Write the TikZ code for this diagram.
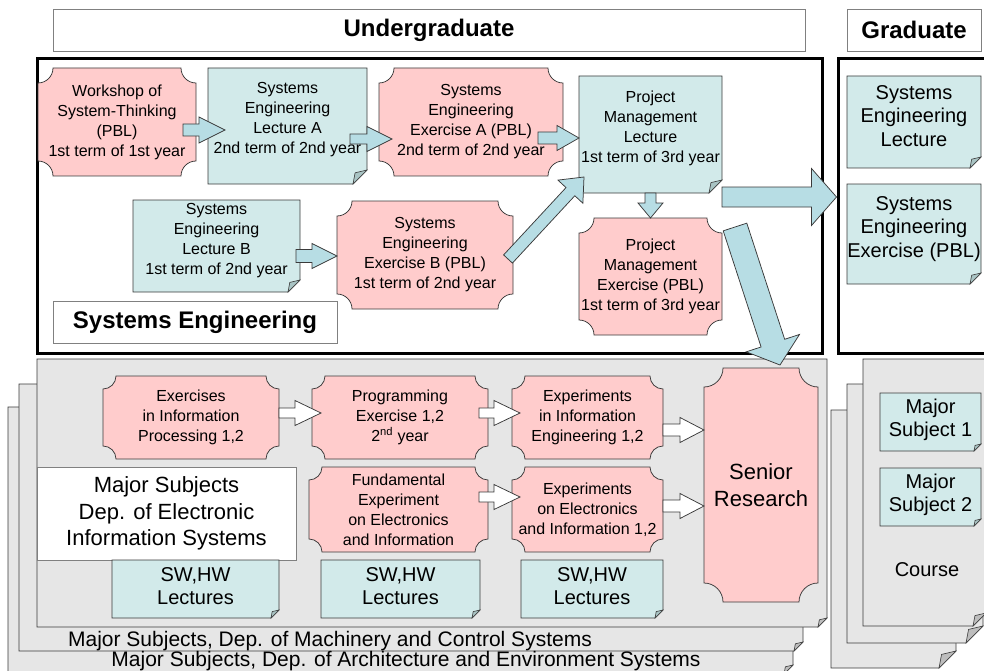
\documentclass[tikz,border=0pt]{standalone}
\usepackage{fontspec}
\setmainfont{Liberation Sans}
\usetikzlibrary{calc}
\definecolor{pinkf}{HTML}{FFCCCC}
\definecolor{tealf}{HTML}{D2EAEA}
\definecolor{foldt}{HTML}{A9C4C4}
\definecolor{arrowt}{HTML}{B7DDE4}
\definecolor{grayf}{HTML}{E6E6E6}
\definecolor{foldgr}{HTML}{BDBDBD}
\definecolor{edge}{HTML}{3A3A3A}
\definecolor{hdredge}{HTML}{808080}
\tikzset{
  shapebox/.style={inner sep=0pt, outer sep=0pt, draw=none},
  txt/.style={inner sep=0pt, align=center, text=black},
  s16/.style={font=\fontsize{16}{20}\selectfont},
  s20/.style={font=\fontsize{20}{23.5}\selectfont},
  s21/.style={font=\fontsize{21}{25}\selectfont},
  s22/.style={font=\fontsize{22}{26.5}\selectfont},
  b24/.style={font=\bfseries\fontsize{24}{28}\selectfont},
  plaq/.style={fill=pinkf, draw=edge, line width=0.75pt},
  notest/.style={fill=tealf, draw=edge, line width=0.75pt},
  pagest/.style={fill=grayf, draw=edge, line width=0.75pt},
  foldteal/.style={fill=foldt, draw=edge, line width=0.6pt},
  foldgray/.style={fill=foldgr, draw=edge, line width=0.6pt},
  hdr/.style={draw=hdredge, fill=white, line width=0.8pt, inner sep=0pt, b24},
  heavybox/.style={draw=black, line width=3pt, inner sep=0pt},
  tealarrow/.style={fill=arrowt, draw=edge, line width=0.75pt},
  whitearrow/.style={fill=white, draw=edge, line width=0.75pt},
}
% invisible box node from corner coordinates
\newcommand\mkbox[5]{%
  \node[shapebox, minimum width={#4-#2}, minimum height={#5-#3}] (#1) at ({(#2+#4)/2},{(#3+#5)/2}) {};}
% folded-corner outline on a named box: name, fold, fill style, fold style
\newcommand\dogear[4]{%
  \draw[#3] (#1.north west) -- (#1.north east) -- ([yshift=#2pt]#1.south east)
     -- ([xshift=-#2pt]#1.south east) -- (#1.south west) -- cycle;
  \draw[#4] ([xshift=-#2pt]#1.south east) -- ([yshift=#2pt]#1.south east)
     -- ([xshift={-0.85*#2pt}, yshift={0.8*#2pt}]#1.south east) -- cycle;}
% concave-corner plaque: name x1 y1 x2 y2 radius textopts text
\newcommand\plaque[8]{%
  \mkbox{#1}{#2}{#3}{#4}{#5}
  \draw[plaq] ([xshift=#6pt]#1.north west) -- ([xshift=-#6pt]#1.north east)
     arc[start angle=180, end angle=270, radius=#6pt] -- ([yshift=#6pt]#1.south east)
     arc[start angle=90, end angle=180, radius=#6pt] -- ([xshift=#6pt]#1.south west)
     arc[start angle=0, end angle=90, radius=#6pt] -- ([yshift=-#6pt]#1.north west)
     arc[start angle=270, end angle=360, radius=#6pt] -- cycle;
  \node[txt, #7] (#1-t) at (#1.center) {#8};}
% note with folded corner: name x1 y1 x2 y2 fold textopts text
\newcommand\note[8]{%
  \mkbox{#1}{#2}{#3}{#4}{#5}
  \dogear{#1}{#6}{notest}{foldteal}
  \node[txt, #7] (#1-t) at (#1.center) {#8};}
% gray page: name x1 y1 x2 y2 fold
\newcommand\page[6]{%
  \mkbox{#1}{#2}{#3}{#4}{#5}
  \dogear{#1}{#6}{pagest}{foldgray}}
% block arrow: style, from, to, shaft half width, head half width, head length
\newcommand\barrow[6]{%
  \coordinate (bA) at #2;
  \coordinate (bB) at #3;
  \coordinate (bH) at ($(bB)!#6!(bA)$);
  \draw[#1] ($(bA)!#4!90:(bB)$) -- ($(bH)!#4!90:(bB)$) -- ($(bH)!#5!90:(bB)$) -- (bB)
     -- ($(bH)!#5!-90:(bB)$) -- ($(bH)!#4!-90:(bB)$) -- ($(bA)!#4!-90:(bB)$) -- cycle;}

\begin{document}
\begin{tikzpicture}[x=1pt,y=-1pt]
\useasboundingbox (0,0) rectangle (984,671);

% headers
\node[hdr, minimum width=752, minimum height=42] (ug) at (429,30) {Undergraduate};
\node[hdr, minimum width=134, minimum height=42] (gr) at (914,30) {Graduate};

% thick region boxes
\node[heavybox, minimum width=785, minimum height=294] (se) at (429.5,206) {};
\node[heavybox, minimum width=157, minimum height=294] (gb) at (916.5,206) {};

% stacked pages (undergraduate)
\page{p3}{8}{407}{793}{674}{9}
\page{p2}{19}{384}{803}{651}{9}
\page{p1}{37}{359}{827}{627}{9}
\node[txt, s21, anchor=base] (mach) at (330,646) {Major Subjects, Dep. of Machinery and Control Systems};
\node[txt, s21, anchor=base] (arch) at (406,666.5) {Major Subjects, Dep. of Architecture and Environment Systems};

% stacked pages (graduate)
\page{g3}{831}{410}{956}{668}{17}
\page{g2}{847}{384}{983}{643}{17}
\page{g1}{863}{359}{986}{626}{13}

% systems engineering nodes
\plaque{ws}{38}{68}{196}{176}{15}{s16}{Workshop of\\System-Thinking\\(PBL)\\1st term of 1st year}
\note{la}{208}{68}{367}{184}{14}{s16, yshift=6pt}{Systems\\Engineering\\Lecture A\\2nd term of 2nd year}
\plaque{ea}{379}{68}{563}{176}{15}{s16}{Systems\\Engineering\\Exercise A (PBL)\\2nd term of 2nd year}
\note{pml}{579}{76}{722}{193}{13}{s16, yshift=6pt}{Project\\Management\\Lecture\\1st term of 3rd year}
\note{lb}{133}{200}{300}{292}{12}{s16, yshift=5pt}{Systems\\Engineering\\Lecture B\\1st term of 2nd year}
\plaque{eb}{337}{201}{513}{309}{15}{s16}{Systems\\Engineering\\Exercise B (PBL)\\1st term of 2nd year}
\plaque{pme}{579}{218}{722}{335}{15}{s16}{Project\\Management\\Exercise (PBL)\\1st term of 3rd year}
\node[draw=hdredge, fill=white, line width=0.8pt, inner sep=0pt, b24, minimum width=284, minimum height=42] (sel) at (195,322) {Systems Engineering};

% graduate nodes
\note{gsl}{847}{76}{981}{168}{11}{s20, yshift=6pt}{Systems\\Engineering\\Lecture}
\note{gse}{847}{184}{981}{284}{11}{s20, yshift=5pt}{Systems\\Engineering\\Exercise (PBL)}
\note{ms1}{880}{393}{981}{451}{7}{s20, yshift=2pt}{Major\\Subject 1}
\note{ms2}{880}{468}{981}{526}{7}{s20, yshift=2pt}{Major\\Subject 2}
\node[txt, s20] (course) at (927,570) {Course};

% undergraduate major subjects nodes
\plaque{eip}{103}{376}{279}{459}{13}{s16}{Exercises\\in Information\\Processing 1,2}
\plaque{pe}{312}{376}{488}{459}{13}{s16}{Programming\\Exercise 1,2\\2\textsuperscript{nd} year}
\plaque{eie}{512}{376}{663}{459}{13}{s16}{Experiments\\in Information\\Engineering 1,2}
\plaque{fe}{309}{467}{488}{552}{13}{s16}{Fundamental\\Experiment\\on Electronics\\and Information}
\plaque{eel}{512}{467}{663}{552}{13}{s16}{Experiments\\on Electronics\\and Information 1,2}
\plaque{sr}{704}{368}{818}{602}{19}{s22}{Senior\\Research}
\node[draw=hdredge, fill=white, line width=0.8pt, inner sep=0pt, txt, s22, minimum width=259, minimum height=93] (mj) at (166.5,513.5) {Major Subjects\\Dep. of Electronic\\Information Systems};
\note{sw1}{112}{560}{279}{618}{8}{s20, yshift=3pt}{SW,HW\\Lectures}
\note{sw2}{321}{560}{480}{618}{8}{s20, yshift=3pt}{SW,HW\\Lectures}
\note{sw3}{521}{560}{663}{618}{8}{s20, yshift=3pt}{SW,HW\\Lectures}

% teal block arrows
\barrow{tealarrow}{([xshift=-13pt,yshift=-8pt]ws.east)}{([xshift=17pt,yshift=-4pt]la.west)}{6pt}{13pt}{26pt}
\barrow{tealarrow}{([xshift=-17pt,yshift=-13pt]la.east)}{([xshift=13pt,yshift=-17pt]ea.west)}{5pt}{12.5pt}{25pt}
\barrow{tealarrow}{([xshift=-25pt,yshift=-16pt]ea.east)}{([yshift=-3.5pt]pml.west)}{6pt}{12.5pt}{22pt}
\barrow{tealarrow}{([xshift=-4pt,yshift=-10pt]lb.east)}{([yshift=-1pt]eb.west)}{6.5pt}{12.5pt}{25pt}
\barrow{tealarrow}{([xshift=-5pt,yshift=-4pt]eb.east)}{([xshift=5pt,yshift=16pt]pml.south west)}{6pt}{17pt}{20pt}
\barrow{tealarrow}{(pml.south)}{(pme.north)}{5.5pt}{12.5pt}{15pt}
\barrow{tealarrow}{([yshift=-4pt]pml.south east)}{([yshift=9pt]gb.west)}{10pt}{28.5pt}{25pt}
\barrow{tealarrow}{([xshift=13pt,yshift=-34pt]pml.south east)}{([xshift=19pt,yshift=3pt]sr.north)}{12.4pt}{28pt}{23pt}

% white block arrows
\barrow{whitearrow}{([yshift=4.5pt]eip.east)}{([xshift=9pt,yshift=4.5pt]pe.west)}{5pt}{12.5pt}{26pt}
\barrow{whitearrow}{([xshift=-9pt,yshift=4.5pt]pe.east)}{([xshift=8pt,yshift=4.5pt]eie.west)}{5pt}{12.5pt}{26pt}
\barrow{whitearrow}{([yshift=-12.5pt]eie.east)}{([yshift=55pt]sr.west)}{6pt}{12.5pt}{24pt}
\barrow{whitearrow}{([xshift=-9pt,yshift=12.5pt]fe.east)}{([xshift=8pt,yshift=12.5pt]eel.west)}{5pt}{12.5pt}{26pt}
\barrow{whitearrow}{([yshift=3.5pt]eel.east)}{([yshift=-21pt]sr.west)}{6pt}{12.5pt}{24pt}
\end{tikzpicture}
\end{document}
